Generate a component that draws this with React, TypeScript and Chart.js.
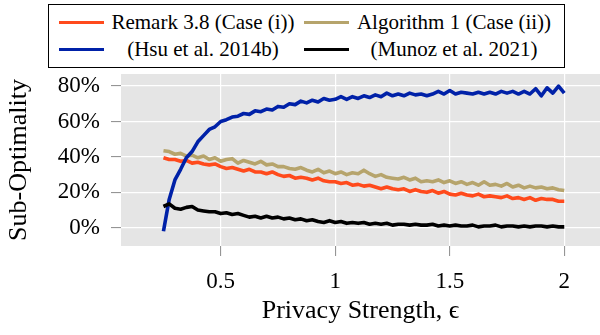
import React, { useEffect, useRef } from "react";
import { Chart, registerables } from "chart.js";

Chart.register(...registerables);

// ---- data ----
const epsilon = [
  0.25, 0.275, 0.3, 0.325, 0.35, 0.375, 0.4, 0.425, 0.45, 0.475,
  0.5, 0.525, 0.55, 0.575, 0.6, 0.625, 0.65, 0.675, 0.7, 0.725,
  0.75, 0.775, 0.8, 0.825, 0.85, 0.875, 0.9, 0.925, 0.95, 0.975,
  1, 1.025, 1.05, 1.075, 1.1, 1.125, 1.15, 1.175, 1.2, 1.225,
  1.25, 1.275, 1.3, 1.325, 1.35, 1.375, 1.4, 1.425, 1.45, 1.475,
  1.5, 1.525, 1.55, 1.575, 1.6, 1.625, 1.65, 1.675, 1.7, 1.725,
  1.75, 1.775, 1.8, 1.825, 1.85, 1.875, 1.9, 1.925, 1.95, 1.975,
  2,
];

const remark = [
  39.5, 38.5, 38.5, 37.5, 38, 36.5, 37, 36, 35.5, 36,
  34.5, 33.5, 34, 33, 32, 33, 31.5, 31.5, 30.5, 31.5,
  30, 29, 29.5, 28, 28.5, 28, 27, 28, 26.5, 26,
  26, 25, 25.5, 24, 24.5, 23.5, 24, 23, 22, 23,
  22, 21.5, 22, 20.5, 21.5, 20.5, 20, 21, 19.5, 20.5,
  19, 18.5, 19.5, 18.5, 18, 19, 17.5, 18, 17.5, 17,
  18, 16.5, 17, 16, 17, 15.5, 16.5, 16, 16, 15,
  15,
];

const algorithm1 = [
  43.5, 43, 41.5, 42, 40.5, 41, 39.5, 40.5, 38.5, 39.5,
  37.5, 38.5, 39, 36.5, 38, 37, 36, 37.5, 35.5, 36,
  34.5, 34.5, 33.5, 33, 34, 32.5, 31.5, 33, 31, 32,
  30.5, 31.5, 30, 31, 30.5, 32.5, 30.5, 29, 30, 28.5,
  28, 27.5, 28.5, 27, 28, 26, 26.5, 26, 27, 25.5,
  26.5, 25, 26, 24.5, 25.5, 24, 26, 24, 24.5, 23.5,
  25, 23, 24, 22.5, 23.5, 22.5, 23, 22, 22.5, 21.5,
  21,
];

const hsu = [
  -2, 16, 27, 33, 39.5, 43, 48.5, 52, 55.5, 57,
  60, 61, 62.5, 63, 64.5, 64, 66, 65.5, 67, 66.5,
  68.5, 68, 70, 69.5, 71.5, 70.5, 72, 71, 73, 72,
  72.5, 74, 72.5, 74, 73, 74.5, 73.5, 75, 74, 76,
  74.5, 75.5, 74.5, 76, 75, 75.5, 74.5, 75.5, 77, 75.5,
  77.5, 75.5, 76.5, 76, 75.5, 76.5, 75.5, 76.5, 75.5, 77,
  76, 77, 75.5, 77, 75.5, 78.5, 74.5, 79, 76, 80,
  76,
];

const munoz = [
  12, 13.5, 11, 10.5, 11.5, 12, 10, 9.5, 9, 9,
  8, 8.5, 7.5, 8, 7, 6, 6.5, 5.5, 6.5, 5.5,
  6, 5, 5.5, 4.5, 5, 4, 4.5, 3.5, 3, 4,
  3, 3.5, 2.5, 3, 2.5, 3, 2, 2.5, 2, 2.5,
  1.5, 2, 2, 1.5, 2, 1.5, 1.5, 2, 1, 1.5,
  1, 1.5, 1, 1, 1.5, 0.5, 1, 1, 1.5, 0.5,
  1, 1, 0.5, 1, 0.5, 1, 1, 0.5, 1, 0.5,
  0.5,
];

const seriesNames = [
  "Remark 3.8 (Case (i))",
  "Algorithm 1 (Case (ii))",
  "(Hsu et al. 2014b)",
  "(Munoz et al. 2021)",
];
const seriesColors = ["#ff4a1c", "#b6a46c", "#0021a8", "#000000"];

const xTicks = [0.5, 1, 1.5, 2];
const xTickLabels = ["0.5", "1", "1.5", "2"];
const yTicks = [0, 20, 40, 60, 80];
const yTickLabels = ["0%", "20%", "40%", "60%", "80%"];

const SERIF = '"Liberation Serif", "DejaVu Serif", "Times New Roman", serif';

const bgPlugin = {
  id: "plotBg",
  beforeDraw(chart: any) {
    const { ctx, chartArea } = chart;
    if (!chartArea) return;
    ctx.save();
    ctx.fillStyle = "#e5e5e5";
    ctx.fillRect(
      chartArea.left,
      chartArea.top,
      chartArea.right - chartArea.left,
      chartArea.bottom - chartArea.top
    );
    ctx.restore();
  },
};

export default function App() {
  const ref = useRef<HTMLCanvasElement>(null);

  useEffect(() => {
    if (!ref.current) return;
    const mk = (ys: number[]) => epsilon.map((x, i) => ({ x, y: ys[i] }));
    const all = [remark, algorithm1, hsu, munoz];
    const chart = new Chart(ref.current, {
      type: "line",
      data: {
        datasets: all.map((ys, i) => ({
          label: seriesNames[i],
          data: mk(ys),
          borderColor: seriesColors[i],
          backgroundColor: seriesColors[i],
          borderWidth: 3.6,
          pointRadius: 0,
          tension: 0,
          fill: false,
          borderJoinStyle: "round" as const,
          order: 4 - i,
        })),
      },
      options: {
        responsive: false,
        animation: false,
        events: [],
        layout: { padding: { top: 74, left: 0, right: 0, bottom: 0 } },
        plugins: {
          legend: { display: false },
          tooltip: { enabled: false },
        },
        scales: {
          x: {
            type: "linear",
            min: 0.0646,
            max: 2.156,
            afterBuildTicks: (s: any) => {
              s.ticks = xTicks.map((v) => ({ value: v }));
            },
            afterFit: (s: any) => {
              s.height = 89;
            },
            border: { display: false },
            grid: {
              color: "#ffffff",
              lineWidth: 1.2,
              tickColor: "#8a8a8a",
              tickLength: 10,
              tickWidth: 1,
            },
            ticks: {
              autoSkip: false,
              maxRotation: 0,
              padding: 12,
              color: "#000",
              font: { family: SERIF, size: 23 },
              callback: (_v: any, i: number) => xTickLabels[i],
            },
            title: {
              display: true,
              text: "Privacy Strength, ϵ",
              color: "#000",
              font: { family: SERIF, size: 26 },
              padding: { top: 0, bottom: 8 },
            },
          },
          y: {
            type: "linear",
            min: -10.3,
            max: 86.8,
            afterBuildTicks: (s: any) => {
              s.ticks = yTicks.map((v) => ({ value: v }));
            },
            afterFit: (s: any) => {
              s.width = 121;
            },
            border: { display: false },
            grid: {
              color: "#ffffff",
              lineWidth: 1.2,
              tickColor: "#8a8a8a",
              tickLength: 10,
              tickWidth: 1,
            },
            ticks: {
              autoSkip: false,
              padding: 11,
              color: "#000",
              font: { family: SERIF, size: 23 },
              callback: (_v: any, i: number) => yTickLabels[i],
            },
            title: {
              display: true,
              text: "Sub-Optimality",
              color: "#000",
              font: { family: SERIF, size: 26 },
              padding: { top: 4, bottom: 0 },
            },
          },
        },
      },
      plugins: [bgPlugin],
    });
    return () => chart.destroy();
  }, []);

  const textStyle = (left: number, top: number, width: number): React.CSSProperties => ({
    position: "absolute",
    left,
    top,
    width,
    height: 24,
    lineHeight: "24px",
    textAlign: "center",
    fontFamily: SERIF,
    fontSize: 21,
    color: "#000",
    whiteSpace: "nowrap",
  });
  const sampleStyle = (left: number, top: number, color: string): React.CSSProperties => ({
    position: "absolute",
    left,
    top,
    width: 45,
    height: 3,
    background: color,
  });

  return (
    <div
      style={{
        position: "absolute",
        left: 0,
        top: 0,
        width: 600,
        height: 335,
        background: "#fff",
        overflow: "hidden",
      }}
    >
      <canvas ref={ref} width={600} height={335} style={{ display: "block" }} />
      <div
        style={{
          position: "absolute",
          left: 48,
          top: 4,
          width: 517,
          height: 64,
          boxSizing: "border-box",
          border: "1.5px solid #000",
          background: "#fff",
        }}
      />
      <div style={sampleStyle(59, 21, seriesColors[0])} />
      <div style={textStyle(110, 10, 186)}>{seriesNames[0]}</div>
      <div style={sampleStyle(304, 21, seriesColors[1])} />
      <div style={textStyle(354, 10, 200)}>{seriesNames[1]}</div>
      <div style={sampleStyle(59, 48, seriesColors[2])} />
      <div style={textStyle(110, 37, 186)}>{seriesNames[2]}</div>
      <div style={sampleStyle(304, 48, seriesColors[3])} />
      <div style={textStyle(354, 37, 200)}>{seriesNames[3]}</div>
    </div>
  );
}
